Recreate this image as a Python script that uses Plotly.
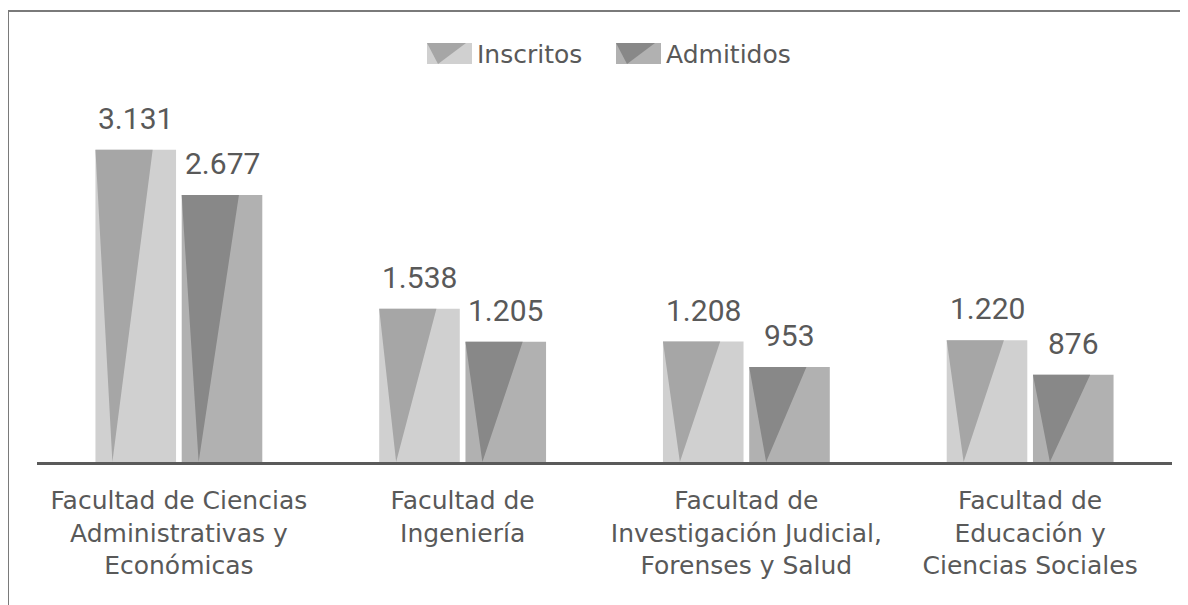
import plotly.graph_objects as go

# Data
categories = [
    "Facultad de Ciencias<br>Administrativas y<br>Económicas",
    "Facultad de<br>Ingeniería",
    "Facultad de<br>Investigación Judicial,<br>Forenses y Salud",
    "Facultad de<br>Educación y<br>Ciencias Sociales",
]
inscritos = [3131, 1538, 1208, 1220]
admitidos = [2677, 1205, 953, 876]
value_labels_ins = ["3.131", "1.538", "1.208", "1.220"]
value_labels_adm = ["2.677", "1.205", "953", "876"]

W, H = 1188, 605
PAGE = 8  # browser body margin
ML, MR, MT, MB = 29, 24, 82, 151
PW, PH = W - ML - MR, H - MT - MB

BAR_W = 0.284
OFFSET = 0.152
TEXT = "#595959"
NUM_FONT = "Roboto"
LBL_FONT = "DejaVu Sans"

series = [
    ("Inscritos", inscritos, value_labels_ins, -OFFSET, "#d0d0d0", "#a6a6a6"),
    ("Admitidos", admitidos, value_labels_adm, OFFSET, "#b1b1b1", "#888888"),
]

fig = go.Figure()
annotations = []

for name, vals, labels, off, base_c, tri_c in series:
    xs = [i + off for i in range(len(vals))]
    fig.add_trace(go.Bar(
        x=xs, y=vals, width=BAR_W, marker=dict(color=base_c, line_width=0),
        name=name, showlegend=False, hoverinfo="skip",
    ))
    # darker wedge inside each bar
    tx, ty = [], []
    for x, v in zip(xs, vals):
        left = x - BAR_W / 2
        tx += [left, left + 0.71 * BAR_W, left + 0.21 * BAR_W, left, None]
        ty += [v, v, 0, v, None]
    fig.add_trace(go.Scatter(
        x=tx, y=ty, mode="lines", fill="toself", fillcolor=tri_c,
        line=dict(width=0, color=tri_c), showlegend=False, hoverinfo="skip",
    ))
    for x, v, lab in zip(xs, vals, labels):
        annotations.append(dict(
            x=x, y=v, text=lab, showarrow=False, yanchor="bottom",
            yshift=12, font=dict(size=30, color=TEXT, family=NUM_FONT),
        ))


def px_x(p):
    return (p - PAGE - ML) / PW


def px_y(p):
    return (MT + PH - (p - PAGE)) / PH


shapes = []
# frame lines (top and left)
shapes.append(dict(type="line", xref="paper", yref="paper",
                   x0=px_x(8), x1=px_x(1200), y0=px_y(11), y1=px_y(11),
                   line=dict(color="#7a7a7a", width=2)))
shapes.append(dict(type="line", xref="paper", yref="paper",
                   x0=px_x(8), x1=px_x(8), y0=px_y(11), y1=px_y(620),
                   line=dict(color="#7a7a7a", width=2)))

# custom legend
legend_items = [("Inscritos", 427, "#d0d0d0", "#a6a6a6"),
                ("Admitidos", 616, "#b1b1b1", "#888888")]
for name, x0, base_c, tri_c in legend_items:
    x1 = x0 + 45
    shapes.append(dict(type="rect", xref="paper", yref="paper",
                       x0=px_x(x0), x1=px_x(x1), y0=px_y(43), y1=px_y(64),
                       fillcolor=base_c, line_width=0))
    path = "M{},{} L{},{} L{},{} Z".format(
        px_x(x0), px_y(43), px_x(x0 + 39), px_y(43), px_x(x0 + 11), px_y(64))
    shapes.append(dict(type="path", xref="paper", yref="paper", path=path,
                       fillcolor=tri_c, line_width=0))
    annotations.append(dict(
        x=px_x(x1 + 3), y=px_y(54), xref="paper", yref="paper", text=name,
        showarrow=False, xanchor="left", yanchor="middle",
        font=dict(size=25, color=TEXT, family=LBL_FONT),
    ))

fig.update_layout(
    width=W, height=H,
    margin=dict(l=ML, r=MR, t=MT, b=MB),
    plot_bgcolor="white", paper_bgcolor="white",
    barmode="overlay",
    showlegend=False,
    xaxis=dict(
        range=[-0.5, len(categories) - 0.5],
        tickvals=list(range(len(categories))), ticktext=categories,
        showgrid=False, zeroline=False, showline=True,
        linecolor="#5a5a5a", linewidth=3, ticks="",
        tickfont=dict(size=25, color=TEXT, family=LBL_FONT),
        ticklabelstandoff=14,
        fixedrange=True,
    ),
    yaxis=dict(range=[0, PH / 0.0997], visible=False, fixedrange=True),
    annotations=annotations,
    shapes=shapes,
)

fig.write_html("out.html")
